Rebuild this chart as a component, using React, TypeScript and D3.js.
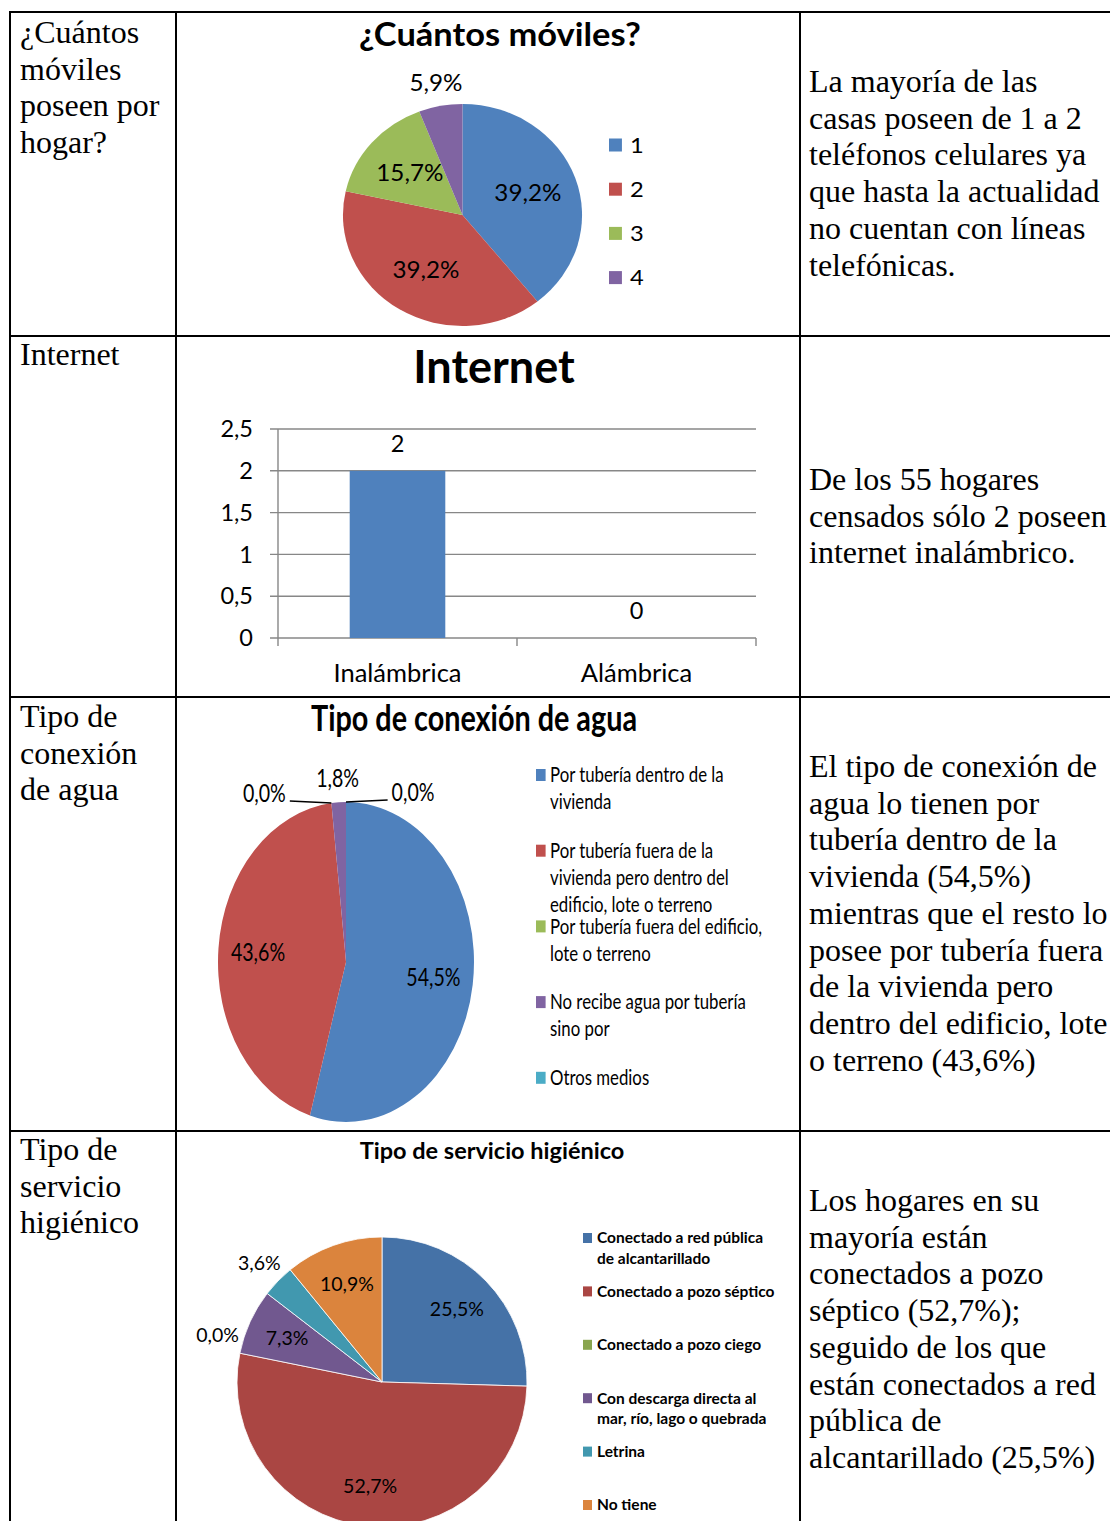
import React from "react";
import * as d3 from "d3";

const SANS = "Lato, 'Open Sans', 'DejaVu Sans', sans-serif";
const SERIF = "'Liberation Serif', 'Times New Roman', serif";

// fila 1: ¿Cuántos móviles?
const movilesCats = ["1", "2", "3", "4"];
const movilesValues = [20, 20, 8, 3];
const movilesColors = ["#4F81BD", "#C0504D", "#9BBB59", "#8064A2"];

// fila 2: Internet
const internetCats = ["Inalámbrica", "Alámbrica"];
const internetValues = [2, 0];
const internetTicks = [0, 0.5, 1, 1.5, 2, 2.5];

// fila 3: Tipo de conexión de agua
const aguaCats = [
  ["Por tubería dentro de la", "vivienda"],
  ["Por tubería fuera de la", "vivienda pero dentro del", "edificio, lote o terreno"],
  ["Por tubería fuera del edificio,", "lote o  terreno"],
  ["No recibe agua por tubería", "sino por"],
  ["Otros medios"],
];
const aguaValues = [30, 24, 0, 1, 0];
const aguaColors = ["#4F81BD", "#C0504D", "#9BBB59", "#8064A2", "#4BACC6"];

// fila 4: Tipo de servicio higiénico
const higCats = [
  ["Conectado a red pública", "de alcantarillado"],
  ["Conectado a pozo séptico"],
  ["Conectado a pozo ciego"],
  ["Con descarga directa al", "mar, río, lago o quebrada"],
  ["Letrina"],
  ["No tiene"],
];
const higValues = [14, 29, 0, 4, 2, 6];
const higColors = ["#4572A7", "#AA4643", "#89A54E", "#71588F", "#4198AF", "#DB843D"];

const leftTexts = [
  ["¿Cuántos", "móviles", "poseen por", "hogar?"],
  ["Internet"],
  ["Tipo de", "conexión", "de agua"],
  ["Tipo de", "servicio", "higiénico"],
];
const rightTexts = [
  ["La mayoría de las", "casas poseen de 1 a 2", "teléfonos celulares ya", "que hasta la actualidad", "no cuentan con líneas", "telefónicas."],
  ["De los 55 hogares", "censados sólo 2 poseen", "internet inalámbrico."],
  ["El tipo de conexión de", "agua lo tienen por", "tubería dentro de la", "vivienda (54,5%)", "mientras que el resto lo", "posee por tubería fuera", "de la vivienda pero", "dentro del edificio, lote", "o terreno (43,6%)"],
  ["Los hogares en su", "mayoría están", "conectados a pozo", "séptico (52,7%);", "seguido de los que", "están conectados a red", "pública de", "alcantarillado (25,5%)"],
];
const leftY = [43, 365, 727, 1160];
const rightY = [92, 490, 777, 1211];

const pct = (v: number, total: number) => (v / total * 100).toFixed(1).replace(".", ",") + "%";

function Pie(p: any) {
  const total = d3.sum(p.values as number[]);
  const arcs = d3.pie<number>().sort(null).value(d => d)(p.values);
  const arc = d3.arc<d3.PieArcDatum<number>>().innerRadius(0).outerRadius(p.r);
  let zeroCount = 0;
  return (
    <g transform={`translate(${p.cx},${p.cy}) scale(${p.sx},1)`}>
      {arcs.map((a, i) => a.value > 0 && (
        <path key={i} d={arc(a) as string} fill={p.colors[i]} stroke={p.stroke || "none"} strokeWidth={0.8} />
      ))}
      {arcs.map((a, i) => {
        const share = a.value / total;
        const txt = pct(a.value, total);
        if (a.value === 0 && p.leaders) {
          const side = zeroCount++ === 0 ? -1 : 1;
          const ex = Math.sin(a.startAngle) * p.r, ey = -Math.cos(a.startAngle) * p.r;
          const lx = ex + side * 52;
          const ly = ey - 2;
          return (
            <g key={i}>
              <line x1={ex} y1={ey} x2={lx} y2={ly} stroke="#000" strokeWidth={1.6} />
              <text x={lx + side * 5} y={ly + 1} textAnchor={side < 0 ? "end" : "start"} fontSize={p.fs} fontFamily={SANS} fill="#000">{txt}</text>
            </g>
          );
        }
        const ang = a.value === 0 ? a.startAngle + 0.08 : (a.startAngle + a.endAngle) / 2;
        const rr = share < p.cut ? p.outR * p.r : p.inR * p.r;
        const x = Math.sin(ang) * rr, y = -Math.cos(ang) * rr;
        return (
          <text key={i} x={x} y={y} dy="0.35em" textAnchor="middle" fontSize={p.fs} fontFamily={SANS} fill="#000">{txt}</text>
        );
      })}
      {p.children}
    </g>
  );
}

function Lines({ x, y, lines, lh, size, family, weight }: any) {
  return (
    <text x={x} y={y} fontFamily={family} fontSize={size} fontWeight={weight || "normal"} fill="#000">
      {lines.map((l: string, i: number) => (
        <tspan key={i} x={x} dy={i === 0 ? 0 : lh}>{l}</tspan>
      ))}
    </text>
  );
}

function InternetChart() {
  const x = d3.scaleBand<string>().domain(internetCats).range([278, 756]);
  const y = d3.scaleLinear().domain([0, 2.5]).range([638, 429]);
  const bw = x.bandwidth() * 0.4;
  const fmt = (v: number) => String(v).replace(".", ",");
  return (
    <g fontFamily={SANS}>
      <text x={494} y={383} textAnchor="middle" fontSize={45} fontWeight="bold">Internet</text>
      {internetTicks.map(t => (
        <g key={t}>
          <line x1={270} x2={756} y1={y(t)} y2={y(t)} stroke="#878787" strokeWidth={1.4} />
          <text x={253} y={y(t)} dy="0.35em" textAnchor="end" fontSize={23.5}>{fmt(t)}</text>
        </g>
      ))}
      <line x1={278} x2={278} y1={y(2.5)} y2={y(0)} stroke="#878787" strokeWidth={1.4} />
      {[...internetCats.map(c => x(c) as number), 756].map((tx, i) => (
        <line key={i} x1={tx} x2={tx} y1={y(0)} y2={y(0) + 8} stroke="#878787" strokeWidth={1.4} />
      ))}
      {internetCats.map((c, i) => {
        const cx = (x(c) as number) + x.bandwidth() / 2;
        return (
          <g key={c}>
            {internetValues[i] > 0 && (
              <rect x={cx - bw / 2} y={y(internetValues[i])} width={bw} height={y(0) - y(internetValues[i])} fill="#4F81BD" />
            )}
            <text x={cx} y={y(internetValues[i]) - 27} dy="0.35em" textAnchor="middle" fontSize={23.5}>{internetValues[i]}</text>
            <text x={cx} y={673} dy="0.35em" textAnchor="middle" fontSize={25.5}>{c}</text>
          </g>
        );
      })}
    </g>
  );
}

export default function App() {
  const c1 = { cx: 462.5, cy: 215, r: 111, sx: 1.077 };
  const c3 = { cx: 346, cy: 962, r: 160, sx: 0.8 };
  const c4 = { cx: 382, cy: 1382, r: 145, sx: 1 };
  const lx1 = (X: number) => (X - c1.cx) / c1.sx;
  const lx3 = (X: number) => (X - c3.cx) / c3.sx;

  return (
    <div style={{ position: "absolute", left: 0, top: 0 }}>
      <svg width={1110} height={1521} style={{ display: "block", background: "#fff" }}>
        {/* texto de la tabla */}
        {leftTexts.map((t, i) => (
          <Lines key={"l" + i} x={20} y={leftY[i]} lines={t} lh={36.5} size={32} family={SERIF} />
        ))}
        {rightTexts.map((t, i) => (
          <Lines key={"r" + i} x={809} y={rightY[i]} lines={t} lh={36.7} size={32} family={SERIF} />
        ))}

        {/* 1 */}
        <Pie {...c1} values={movilesValues} colors={movilesColors} fs={22.5} inR={0.58} outR={1.21} cut={0.08}>
          <text x={lx1(500)} y={35 - c1.cy} dy="0.35em" textAnchor="middle" fontSize={32} fontWeight="bold" fontFamily={SANS}>¿Cuántos móviles?</text>
          {movilesCats.map((c, i) => (
            <g key={c}>
              <rect x={lx1(609)} y={145 + i * 44.2 - 6.5 - c1.cy} width={12} height={13} fill={movilesColors[i]} />
              <text x={lx1(630)} y={145 + i * 44.2 - c1.cy} dy="0.35em" fontSize={22} fontFamily={SANS}>{c}</text>
            </g>
          ))}
        </Pie>

        {/* 2 */}
        <InternetChart />

        {/* 3 */}
        <Pie {...c3} values={aguaValues} colors={aguaColors} fs={24.5} inR={0.69} outR={1.15} cut={0.05} leaders>
          <text x={lx3(474)} y={718 - c3.cy} dy="0.35em" textAnchor="middle" fontSize={36} fontWeight="bold" fontFamily={SANS}>Tipo de conexión de agua</text>
          {aguaCats.map((c, i) => {
            const yy = 775 + i * 75.7 - c3.cy;
            return (
              <g key={i}>
                <rect x={lx3(536)} y={yy - 6} width={12} height={12} fill={aguaColors[i]} />
                <text fontSize={21} fontFamily={SANS}>
                  {c.map((l, j) => (
                    <tspan key={j} x={lx3(550)} y={yy + j * 27} dy="0.35em">{l}</tspan>
                  ))}
                </text>
              </g>
            );
          })}
        </Pie>

        {/* 4 */}
        <Pie {...c4} values={higValues} colors={higColors} fs={19.5} inR={0.72} outR={1.18} cut={0.05} stroke="#fff">
          <text x={492 - c4.cx} y={1151 - c4.cy} dy="0.35em" textAnchor="middle" fontSize={23.5} fontWeight="bold" fontFamily={SANS}>Tipo de servicio higiénico</text>
          {higCats.map((c, i) => {
            const yy = 1238 + i * 53.4 - c4.cy;
            return (
              <g key={i}>
                <rect x={583 - c4.cx} y={yy - 5} width={9} height={10} fill={higColors[i]} />
                <text fontSize={15.5} fontWeight="bold" fontFamily={SANS}>
                  {c.map((l, j) => (
                    <tspan key={j} x={597 - c4.cx} y={yy + j * 20.5} dy="0.35em">{l}</tspan>
                  ))}
                </text>
              </g>
            );
          })}
        </Pie>

        {/* bordes de la tabla */}
        <g stroke="#000" strokeWidth={2}>
          <line x1={9} x2={1110} y1={12} y2={12} />
          <line x1={9} x2={1110} y1={336} y2={336} />
          <line x1={9} x2={1110} y1={697} y2={697} />
          <line x1={9} x2={1110} y1={1131} y2={1131} />
          <line x1={10} x2={10} y1={11} y2={1521} />
          <line x1={176} x2={176} y1={11} y2={1521} />
          <line x1={800} x2={800} y1={11} y2={1521} />
        </g>
      </svg>
    </div>
  );
}
